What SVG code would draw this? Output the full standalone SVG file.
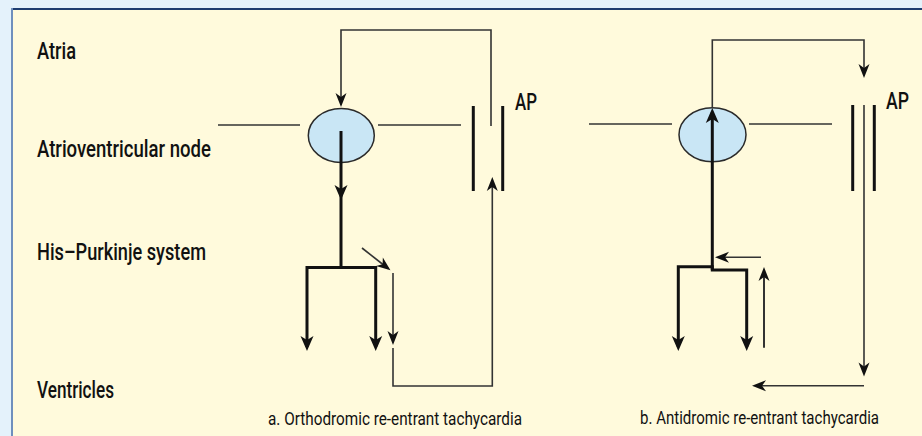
<svg xmlns="http://www.w3.org/2000/svg" width="922" height="436" viewBox="0 0 922 436">
<style>
.lbl{font-family:Roboto,"Liberation Sans",Arial,sans-serif;font-weight:500;font-size:23.5px;fill:#111;}
.cap{font-family:Roboto,"Liberation Sans",Arial,sans-serif;font-weight:400;font-size:17.5px;fill:#111;}
.thin{fill:none;stroke:#333;stroke-width:1.6;}
.mid{fill:none;stroke:#333;stroke-width:2;}
.thick{fill:none;stroke:#111;stroke-width:3;}
.bar{fill:none;stroke:#111;stroke-width:3;}
.node{fill:#c9e6f5;stroke:#2a2a2a;stroke-width:1.5;}
</style>
<defs>
<marker id="ah" viewBox="-16 -8 17 16" markerWidth="17" markerHeight="16" markerUnits="userSpaceOnUse" refX="-4" refY="0" orient="auto-start-reverse">
<path d="M0,0 L-15,-6.5 L-11,0 L-15,6.5 Z" fill="#111"/>
</marker>
<marker id="ahs" viewBox="-15 -7 16 14" markerWidth="16" markerHeight="14" markerUnits="userSpaceOnUse" refX="-3" refY="0" orient="auto-start-reverse">
<path d="M0,0 L-14,-5.5 L-10,0 L-14,5.5 Z" fill="#111"/>
</marker>
</defs>
<rect x="0" y="0" width="922" height="436" fill="#e4f2fb"/>
<rect x="12" y="9" width="920" height="440" fill="#fffadc"/>
<line x1="11" y1="9" x2="922" y2="9" stroke="#1d3d70" stroke-width="2"/>
<line x1="12" y1="8" x2="12" y2="436" stroke="#6f8fbd" stroke-width="2"/>

<g id="labels">
<text class="lbl" x="37" y="58.5" textLength="39" lengthAdjust="spacingAndGlyphs">Atria</text>
<text class="lbl" x="37" y="156.7" textLength="174" lengthAdjust="spacingAndGlyphs">Atrioventricular node</text>
<text class="lbl" x="37" y="260" textLength="169" lengthAdjust="spacingAndGlyphs">His–Purkinje system</text>
<text class="lbl" x="37" y="398" textLength="77" lengthAdjust="spacingAndGlyphs">Ventricles</text>
<text class="cap" x="268" y="424.5" textLength="254" lengthAdjust="spacingAndGlyphs">a. Orthodromic re-entrant tachycardia</text>
<text class="cap" x="640" y="424" textLength="239" lengthAdjust="spacingAndGlyphs">b. Antidromic re-entrant tachycardia</text>
</g>

<g id="node-av-a">
<ellipse class="node" cx="341.3" cy="135.5" rx="33" ry="27"/>
</g>
<g id="node-ap-a">
<line class="bar" x1="473.3" y1="106" x2="473.3" y2="191"/>
<line class="bar" x1="502.7" y1="106" x2="502.7" y2="191"/>
<text class="lbl" x="515" y="110" textLength="22" lengthAdjust="spacingAndGlyphs">AP</text>
</g>
<g id="node-av-b">
<ellipse class="node" cx="712.5" cy="134.7" rx="33.5" ry="27"/>
</g>
<g id="node-ap-b">
<line class="bar" x1="852.7" y1="105" x2="852.7" y2="191"/>
<line class="bar" x1="874.3" y1="105" x2="874.3" y2="191"/>
<text class="lbl" x="886" y="109" textLength="23" lengthAdjust="spacingAndGlyphs">AP</text>
</g>

<g id="connectors">
<!-- panel a -->
<path class="thin" d="M218,125 H300"/>
<path class="thin" d="M378,125 H461"/>
<path class="thin" d="M491,126 V30 H341 V104" marker-end="url(#ahs)"/>
<path class="thick" d="M341,131 V196" marker-end="url(#ah)"/>
<path class="thick" d="M341,196 V268"/>
<path class="thick" d="M307,347 V267.5 H375.7 V347" marker-start="url(#ah)" marker-end="url(#ah)"/>
<path class="thin" d="M362,248 L388.1,268.5" marker-end="url(#ahs)"/>
<path class="thin" d="M393,273 V342" marker-end="url(#ahs)"/>
<path class="thin" d="M393,348 V386 H492.3 V180" marker-end="url(#ahs)"/>
<!-- panel b -->
<path class="thin" d="M589,124 H672"/>
<path class="thin" d="M749,124 H832"/>
<path class="thick" d="M712.3,270 V112" marker-end="url(#ah)"/>
<path class="thin" d="M712.3,108 V40 H864 V75" marker-end="url(#ahs)"/>
<path class="thin" d="M864,105 V373.5" marker-end="url(#ahs)"/>
<path class="thin" d="M864,385.7 H755" marker-end="url(#ahs)"/>
<path class="thick" d="M678.3,347 V266.7 H712.3 V270 H746.7 V347" marker-start="url(#ah)" marker-end="url(#ah)"/>
<path class="thin" d="M761,257.3 H718" marker-end="url(#ahs)"/>
<path class="mid" d="M764,347.7 V270" marker-end="url(#ahs)"/>
</g>
</svg>
